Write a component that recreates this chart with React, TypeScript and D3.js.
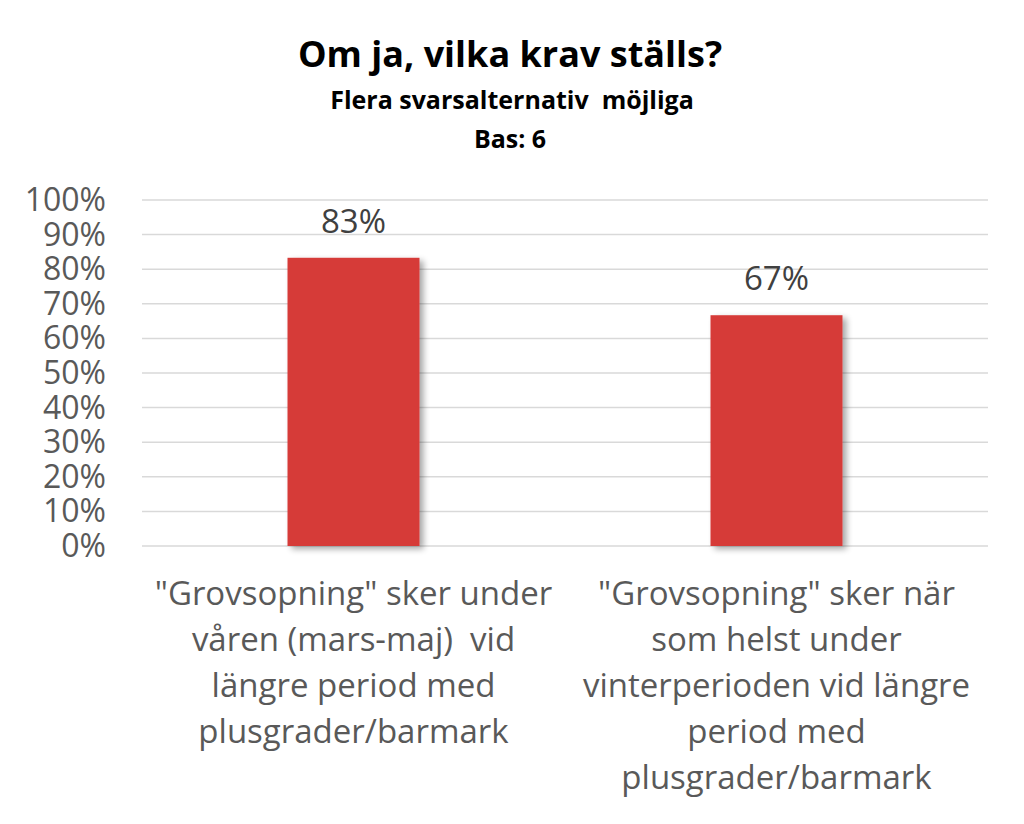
import React from "react";
import * as d3 from "d3";

const categories: string[][] = [
  ['"Grovsopning" sker under', "våren (mars-maj)  vid", "längre period med", "plusgrader/barmark"],
  ['"Grovsopning" sker när', "som helst under", "vinterperioden vid längre", "period med", "plusgrader/barmark"],
];
const values: number[] = [0.833, 0.667];
const valueLabels: string[] = ["83%", "67%"];
const yTicks: number[] = [0, 0.1, 0.2, 0.3, 0.4, 0.5, 0.6, 0.7, 0.8, 0.9, 1.0];
const title = "Om ja, vilka krav ställs?";
const subtitle1 = "Flera svarsalternativ  möjliga";
const subtitle2 = "Bas: 6";

const W = 1024;
const H = 824;
const plot = { left: 142, right: 988, top: 200, bottom: 546 };
const FONT = "'Open Sans', Lato, sans-serif";

export default function App() {
  const x = d3
    .scaleBand<number>()
    .domain(categories.map((_, i) => i))
    .range([plot.left, plot.right])
    .paddingInner(0.688)
    .paddingOuter(0.344);
  const y = d3.scaleLinear().domain([0, 1]).range([plot.bottom, plot.top]);
  const fmt = d3.format(".0%");

  return (
    <svg width={W} height={H} style={{ position: "absolute", left: 0, top: 0, background: "#fff" }}>
      <defs>
        <filter id="shadow" x="-20%" y="-10%" width="150%" height="130%">
          <feGaussianBlur in="SourceAlpha" stdDeviation="3" />
          <feOffset dx="4" dy="3" result="b" />
          <feComponentTransfer>
            <feFuncA type="linear" slope="0.35" />
          </feComponentTransfer>
          <feMerge>
            <feMergeNode />
            <feMergeNode in="SourceGraphic" />
          </feMerge>
        </filter>
      </defs>
      <rect width={W} height={H} fill="#fff" />
      <text x={510} y={67} textAnchor="middle" fontFamily={FONT} fontWeight="bold" fontSize={36} fill="#000">
        {title}
      </text>
      <text x={512} y={109} textAnchor="middle" fontFamily={FONT} fontWeight="bold" fontSize={25} fill="#000" style={{ whiteSpace: "pre" }}>
        {subtitle1}
      </text>
      <text x={510} y={148} textAnchor="middle" fontFamily={FONT} fontWeight="bold" fontSize={25} fill="#000">
        {subtitle2}
      </text>
      {yTicks.map((t) => (
        <g key={t}>
          <line x1={plot.left} x2={plot.right} y1={y(t)} y2={y(t)} stroke="#d9d9d9" strokeWidth={1.5} />
          <text x={106} y={y(t) + 11} textAnchor="end" fontFamily={FONT} fontSize={32} fill="#595959">
            {fmt(t)}
          </text>
        </g>
      ))}
      {values.map((v, i) => (
        <g key={i}>
          <rect
            x={x(i)!}
            y={y(v)}
            width={x.bandwidth()}
            height={y(0) - y(v)}
            fill="#d63b37"
            filter="url(#shadow)"
          />
          <text
            x={x(i)! + x.bandwidth() / 2}
            y={y(v) - 25}
            textAnchor="middle"
            fontFamily={FONT}
            fontSize={33}
            fill="#404040"
          >
            {valueLabels[i]}
          </text>
        </g>
      ))}
      {categories.map((lines, i) => (
        <text
          key={i}
          x={x(i)! + x.bandwidth() / 2}
          textAnchor="middle"
          fontFamily={FONT}
          fontSize={33}
          fill="#595959"
          style={{ whiteSpace: "pre" }}
        >
          {lines.map((l, j) => (
            <tspan key={j} x={x(i)! + x.bandwidth() / 2} y={605 + j * 46}>
              {l}
            </tspan>
          ))}
        </text>
      ))}
    </svg>
  );
}
